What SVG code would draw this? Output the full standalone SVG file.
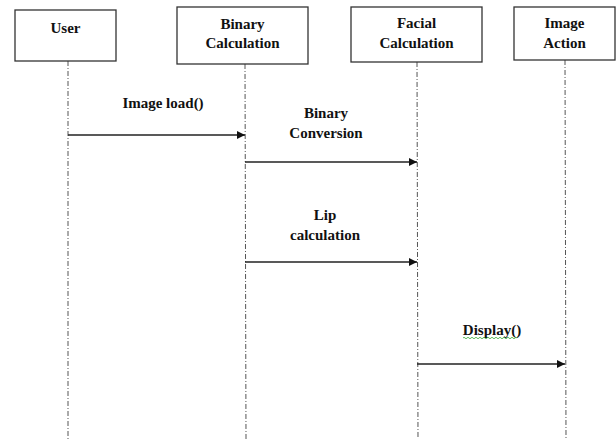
<svg xmlns="http://www.w3.org/2000/svg" width="616" height="439" viewBox="0 0 616 439">
<style>
.box{fill:#fff;stroke:#333;stroke-width:1.3}
.life{stroke:#555;stroke-width:1;stroke-dasharray:5,2,1,2;fill:none}
.msg{stroke:#222;stroke-width:1.3;fill:none}
.t{font-family:'Liberation Serif','DejaVu Serif',serif;font-weight:700;font-size:15px;fill:#111;text-anchor:middle}
</style>
<defs>
<marker id="ah" viewBox="0 0 10 10" refX="10" refY="5" markerWidth="8" markerHeight="8" markerUnits="userSpaceOnUse" orient="auto">
<path d="M0,0 L10,5 L0,10 Z" fill="#111"/>
</marker>
</defs>
<g id="lifelines">
<line class="life" x1="68" y1="61" x2="68" y2="439"/>
<line class="life" x1="245" y1="64" x2="246" y2="439"/>
<line class="life" x1="417" y1="62" x2="418" y2="439"/>
<line class="life" x1="565" y1="60" x2="566" y2="439"/>
</g>
<g id="user">
<rect class="box" x="15" y="10" width="101" height="51"/>
<text class="t" font-family="Liberation Serif, serif" x="65.5" y="33">User</text>
</g>
<g id="binary">
<rect class="box" x="177" y="7" width="131" height="57"/>
<text class="t" x="242.5" y="29">Binary</text>
<text class="t" x="242.5" y="48">Calculation</text>
</g>
<g id="facial">
<rect class="box" x="351" y="7" width="131" height="55"/>
<text class="t" x="416.5" y="28">Facial</text>
<text class="t" x="416.5" y="48">Calculation</text>
</g>
<g id="imageaction">
<rect class="box" x="514" y="7" width="101" height="53"/>
<text class="t" x="564.5" y="28">Image</text>
<text class="t" x="564.5" y="48">Action</text>
</g>
<g id="connectors">
<line class="msg" x1="68" y1="135" x2="245" y2="135" marker-end="url(#ah)"/>
<text class="t" x="163" y="108">Image load()</text>
<line class="msg" x1="245" y1="162" x2="417" y2="162" marker-end="url(#ah)"/>
<text class="t" x="326" y="118">Binary</text>
<text class="t" x="326" y="138">Conversion</text>
<line class="msg" x1="245" y1="262" x2="417" y2="262" marker-end="url(#ah)"/>
<text class="t" x="325" y="220">Lip</text>
<text class="t" x="325" y="240">calculation</text>
<line class="msg" x1="417" y1="364" x2="565" y2="364" marker-end="url(#ah)"/>
<text class="t" x="492" y="335">Display()</text>
<path d="M463,338 q1,-1.5 2,0 t2,0 t2,0 t2,0 t2,0 t2,0 t2,0 t2,0 t2,0 t2,0 t2,0 t2,0 t2,0 t2,0 t2,0 t2,0 t2,0 t2,0 t2,0 t2,0 t2,0 t2,0 t2,0 t2,0 t2,0 t2,0 t2,0" fill="none" stroke="#3a3" stroke-width="0.8"/>
</g>
</svg>
